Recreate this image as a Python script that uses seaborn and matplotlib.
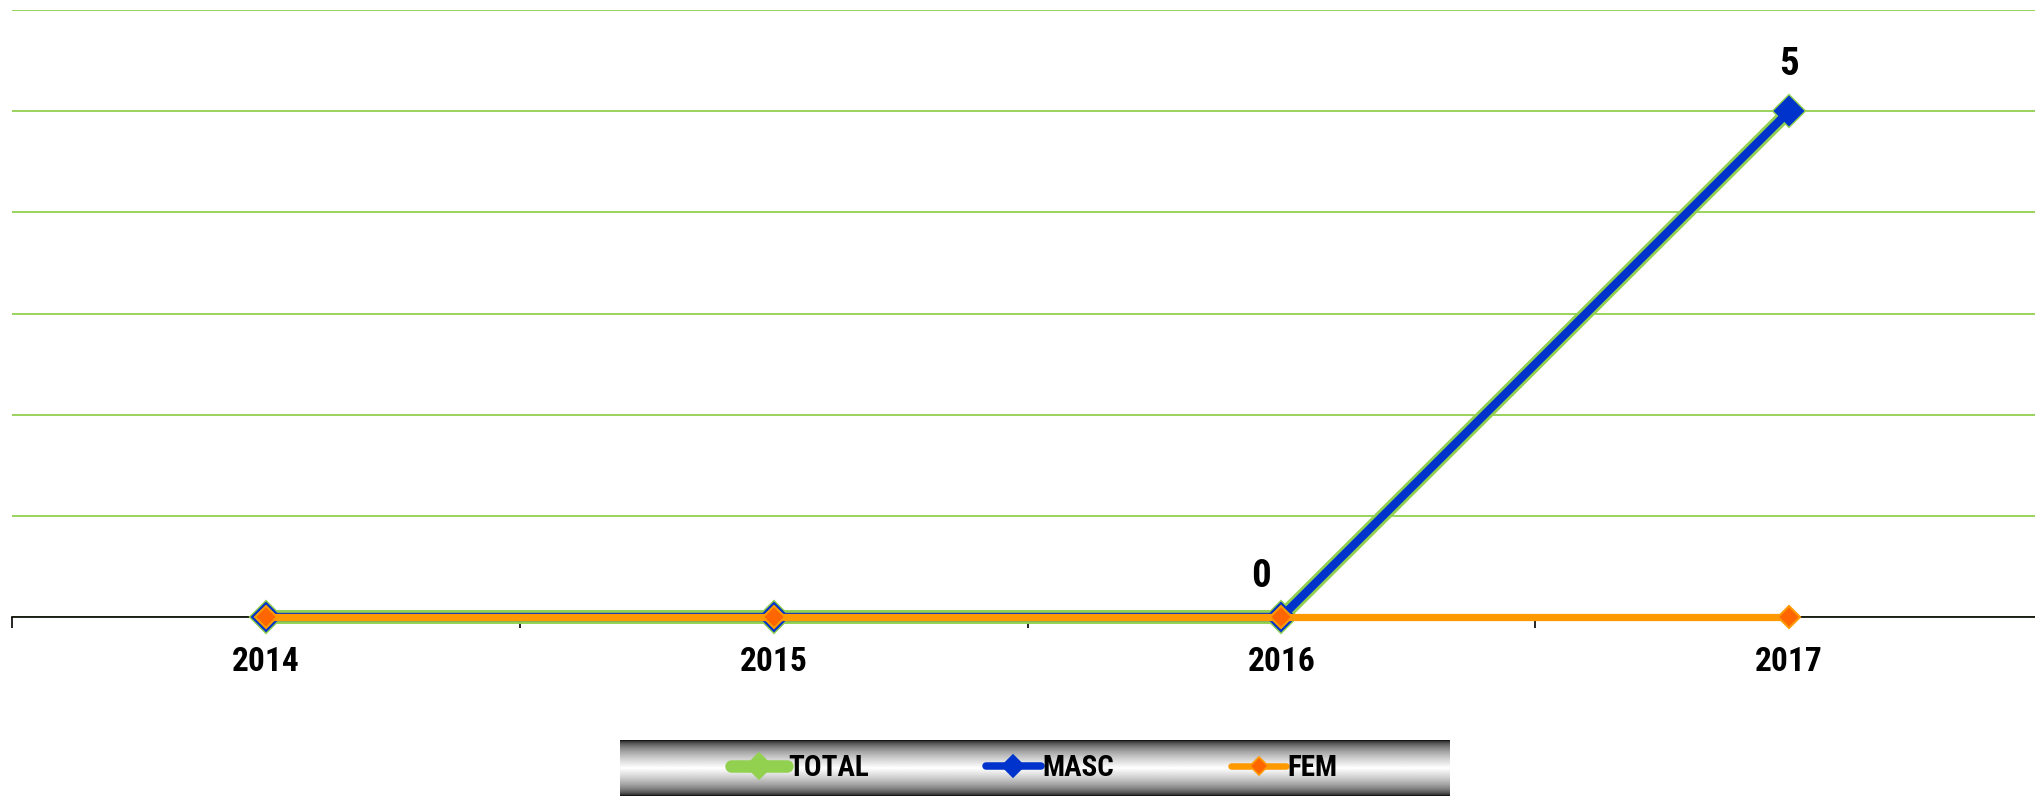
import numpy as np
import pandas as pd
import matplotlib
matplotlib.use("Agg")
import matplotlib.pyplot as plt
import seaborn as sns
from matplotlib import font_manager
from matplotlib.lines import Line2D

years = ["2014", "2015", "2016", "2017"]
total = [0, 0, 0, 5]
masc = [0, 0, 0, 5]
fem = [0, 0, 0, 0]
series_names = ["TOTAL", "MASC", "FEM"]
label_points = [("2016", 0), ("2017", 5)]

sns.set_theme(style="white")
bold_fams = {f.name for f in font_manager.fontManager.ttflist
             if (f.weight if isinstance(f.weight, int) else 400) >= 700
             or str(f.weight) in ("bold", "heavy", "black", "extra bold")}
fam = "DejaVu Sans"
for cand in ["Roboto Condensed", "Oswald", "Antonio", "Fjalla One",
             "Liberation Sans Narrow", "Open Sans Condensed"]:
    if cand in bold_fams:
        fam = cand
        break
plt.rcParams["font.family"] = [fam, "DejaVu Sans"]
WEIGHT = 900

df = pd.DataFrame({
    "year": years * 3,
    "value": total + masc + fem,
    "series": sum([[s] * len(years) for s in series_names], []),
})

W, H = 2035, 796
fig = plt.figure(figsize=(W / 100, H / 100), dpi=100)
ax = fig.add_axes([12 / W, 1 - 617 / H, (2043 - 12) / W, (617 - 10) / H])
ax.patch.set_alpha(0)

styles = {
    "TOTAL": dict(color="#92D050", lw=10.0, marker="D", ms=16, mfc="#92D050", mec="#92D050", mew=1.5, z=2),
    "MASC": dict(color="#0033CC", lw=6.0, marker="D", ms=14, mfc="#0033CC", mec="#0033CC", mew=1.5, z=3),
    "FEM": dict(color="#FF9900", lw=5.2, marker="D", ms=11, mfc="#FF6600", mec="#FF9900", mew=1.5, z=4),
}

for s in series_names:
    st = styles[s]
    sns.lineplot(data=df[df["series"] == s], x="year", y="value", ax=ax,
                 color=st["color"], linewidth=st["lw"], marker=st["marker"],
                 markersize=st["ms"], markerfacecolor=st["mfc"],
                 markeredgecolor=st["mec"], markeredgewidth=st["mew"],
                 zorder=st["z"], legend=False, clip_on=False)

ax.set_xlim(-0.5, 3.5)
ax.set_ylim(0, 6)
ax.set_yticks(range(0, 7))
ax.yaxis.grid(True, color="#92D050", linewidth=1.3)
ax.set_axisbelow(True)
ax.tick_params(axis="y", left=False, labelleft=False)
for sp in ["top", "right", "left"]:
    ax.spines[sp].set_visible(False)
ax.spines["bottom"].set_color("#000000")
ax.spines["bottom"].set_linewidth(1.2)
ax.spines["bottom"].set_zorder(1)
ax.set_xlabel("")
ax.set_ylabel("")
ax.set_xticks(range(len(years)))
ax.set_xticklabels(years, fontsize=24, fontweight=WEIGHT, color="black")
ax.set_xticks(np.arange(-0.5, 4.0, 1.0), minor=True)
ax.tick_params(axis="x", which="major", length=0, pad=21, colors="black")
ax.tick_params(axis="x", which="minor", length=8, width=1.2, color="black", bottom=True)

for yr, v in label_points:
    xi = years.index(yr)
    dx = -0.04 if v == 0 else 0.0
    dy = 0.22 if v == 0 else 0.28
    ax.text(xi + dx, v + dy, str(v), ha="center", va="bottom",
            fontsize=28, fontweight=WEIGHT, color="black")

# legend with vertical gradient background
gax = fig.add_axes([620 / W, 0, (1449 - 620) / W, 56 / H])
t = np.linspace(0, 1, 200)
grad = np.clip(1 - np.abs(t - 0.5) * 2, 0, 1) ** 0.5
gax.imshow(grad[:, None], aspect="auto", cmap="gray", vmin=0, vmax=1,
           extent=[0, 1, 0, 1])
gax.set_axis_off()
handles = [Line2D([0], [0], color=styles[s]["color"], lw=styles[s]["lw"] * 0.9,
                  marker="D", ms=styles[s]["ms"] * 0.8, mfc=styles[s]["mfc"],
                  mec=styles[s]["mec"], mew=1.2, solid_capstyle="round")
           for s in series_names]
leg = gax.legend(handles, series_names, loc="center", ncol=3, frameon=False,
                 prop=dict(family=[fam, "DejaVu Sans"], weight=WEIGHT, size=21),
                 handlelength=1.9, handletextpad=0.05, columnspacing=4.0,
                 labelcolor="black")

fig.savefig("out.png", dpi=100)
